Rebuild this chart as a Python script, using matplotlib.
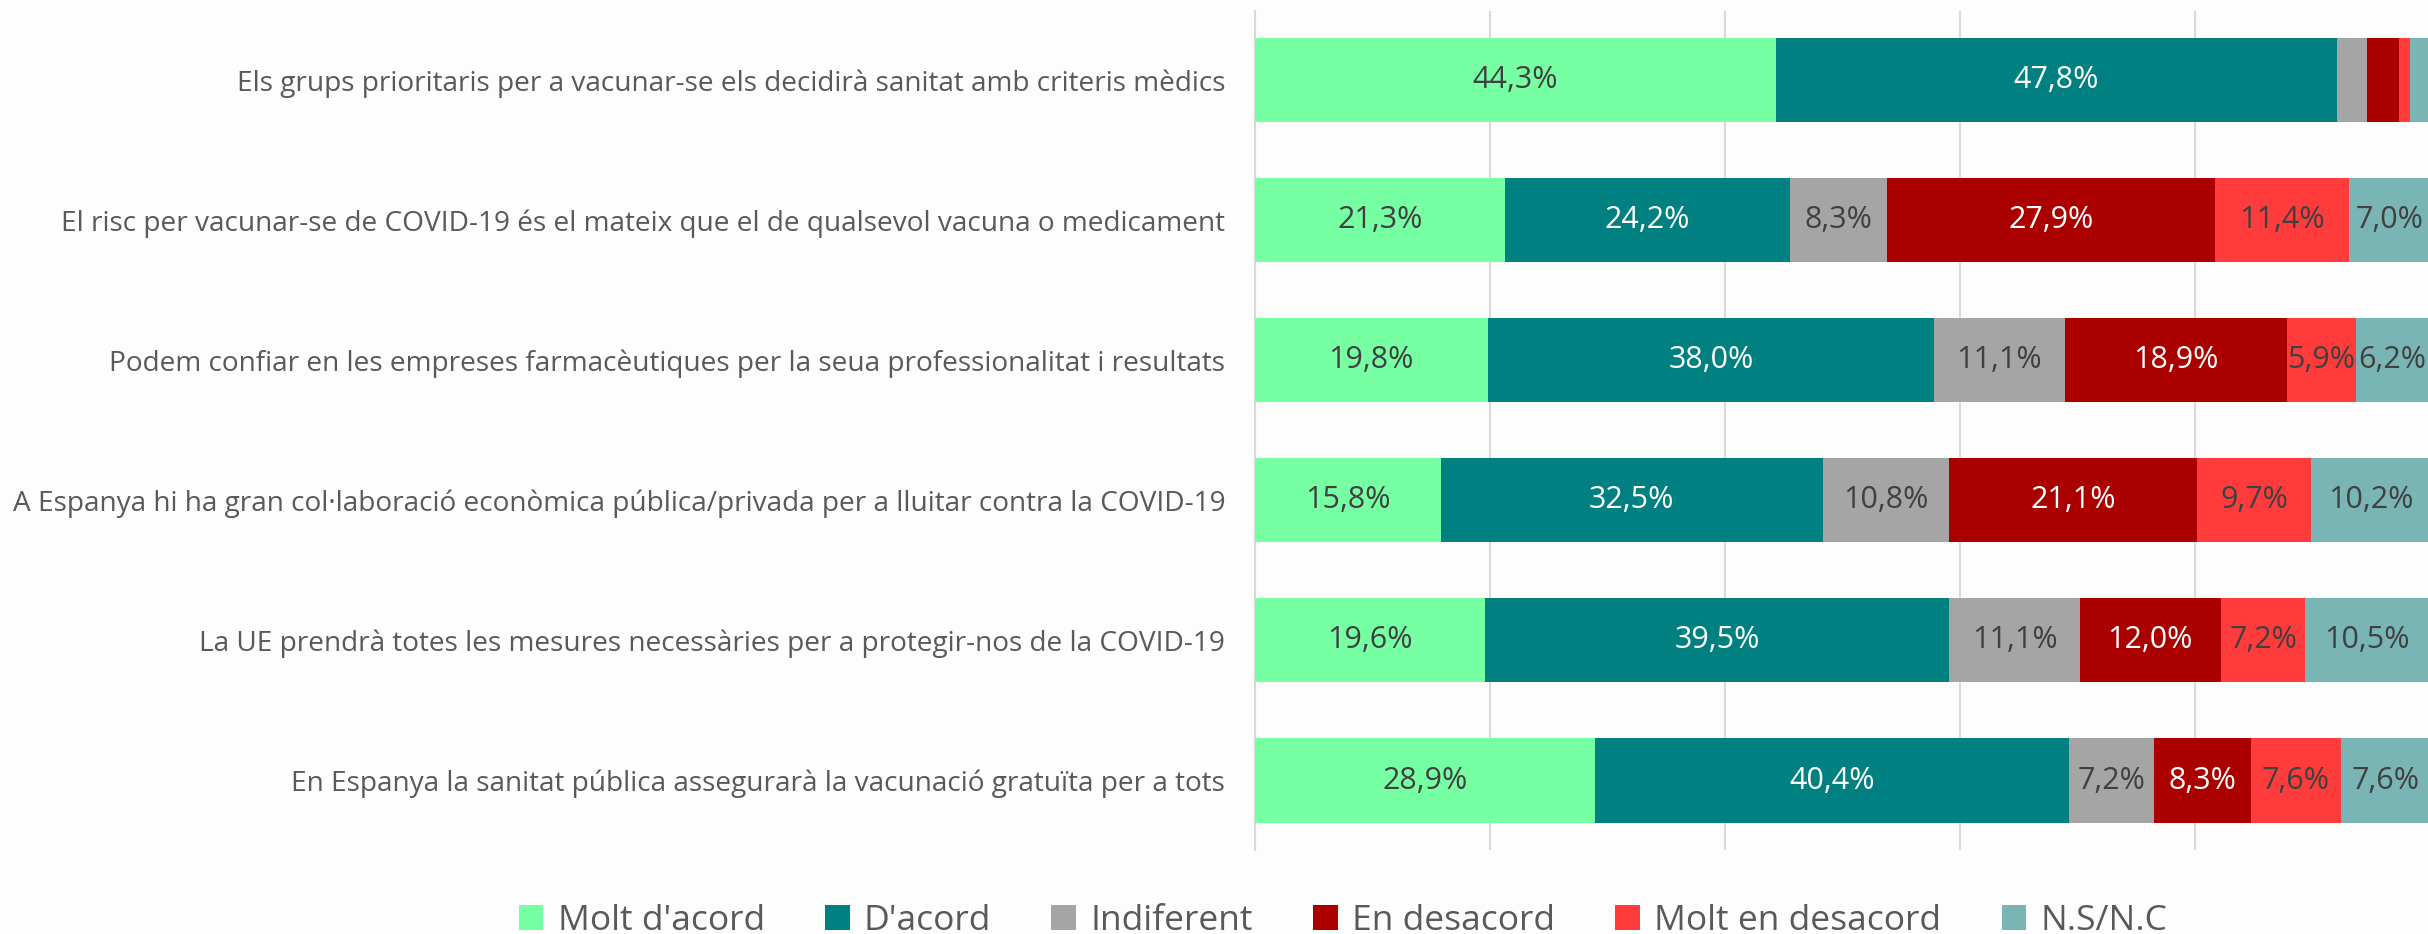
import numpy as np
import matplotlib
matplotlib.use("Agg")
import matplotlib.pyplot as plt
from matplotlib.patches import Patch

plt.rcParams['font.family'] = ['Open Sans', 'DejaVu Sans']

categories = [
    "Els grups prioritaris per a vacunar-se els decidirà sanitat amb criteris mèdics",
    "El risc per vacunar-se de COVID-19 és el mateix que el de qualsevol vacuna o medicament",
    "Podem confiar en les empreses farmacèutiques per la seua professionalitat i resultats",
    "A Espanya hi ha gran col·laboració econòmica pública/privada per a lluitar contra la COVID-19",
    "La UE prendrà totes les mesures necessàries per a protegir-nos de la COVID-19",
    "En Espanya la sanitat pública assegurarà la vacunació gratuïta per a tots",
]

molt_acord = [44.3, 21.3, 19.8, 15.8, 19.6, 28.9]
acord = [47.8, 24.2, 38.0, 32.5, 39.5, 40.4]
indiferent = [2.5, 8.3, 11.1, 10.8, 11.1, 7.2]
desacord = [2.8, 27.9, 18.9, 21.1, 12.0, 8.3]
molt_desacord = [0.9, 11.4, 5.9, 9.7, 7.2, 7.6]
ns_nc = [1.7, 7.0, 6.2, 10.2, 10.5, 7.6]

series_names = ["Molt d'acord", "D'acord", "Indiferent", "En desacord", "Molt en desacord", "N.S/N.C"]
series_values = [molt_acord, acord, indiferent, desacord, molt_desacord, ns_nc]
colors = ['#77FFA3', '#008080', '#A5A5A5', '#AA0000', '#FF3B3B', '#7AB5B5']
text_colors = ['#404040', 'white', '#404040', 'white', '#404040', '#404040']

W, H = 2428, 934
fig = plt.figure(figsize=(W / 100, H / 100), dpi=100, facecolor='#FDFDFD')
ax = fig.add_axes([1255 / W, 1 - 850 / H, 1175 / W, (850 - 11) / H])
ax.set_facecolor('none')

y = np.arange(len(categories))
left = np.zeros(len(categories))
for name, vals, col, tcol in zip(series_names, series_values, colors, text_colors):
    vals = np.array(vals)
    ax.barh(y, vals, left=left, height=0.6, color=col, label=name, zorder=3)
    for yi, (l, v) in enumerate(zip(left, vals)):
        if v >= 5:
            ax.text(l + v / 2, yi, f"{v:.1f}".replace('.', ',') + '%',
                    ha='center', va='center', fontsize=22, color=tcol, zorder=4)
    left += vals

ax.set_xlim(0, 100)
ax.set_ylim(5.496, -0.4925)
ax.set_xticks([0, 20, 40, 60, 80, 100])
ax.xaxis.grid(True, color='#D9D9D9', linewidth=1.5, zorder=0)
ax.tick_params(axis='x', length=0, labelbottom=False)
ax.set_yticks(y)
ax.set_yticklabels(categories, fontsize=20.2, color='#595959')
ax.tick_params(axis='y', length=0, pad=21.5)
for s in ['top', 'right', 'bottom']:
    ax.spines[s].set_visible(False)
ax.spines['left'].set_color('#D9D9D9')
ax.spines['left'].set_linewidth(1.5)

handles = [Patch(facecolor=c, edgecolor='none') for c in colors]
fig.legend(handles, series_names, loc='center', bbox_to_anchor=(1343 / W, 1 - 921 / H),
           ncol=6, frameon=False, fontsize=25.5, labelcolor='#595959',
           handlelength=0.7, handleheight=0.7, handletextpad=0.4, columnspacing=1.7)

fig.savefig('out.png', dpi=100, facecolor=fig.get_facecolor())
